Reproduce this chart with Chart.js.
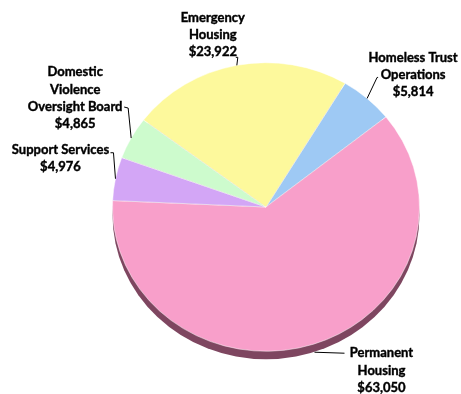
<!DOCTYPE html>
<html>
<head>
<meta charset="utf-8">
<script src="https://cdn.jsdelivr.net/npm/chart.js@4"></script>
<style>
  html, body { margin: 0; padding: 0; background: #fff; }
  #wrap { width: 461px; height: 394px; }
</style>
</head>
<body>
<div id="wrap"><canvas id="grafico" width="461" height="394"></canvas></div>
<script>
// dados
const categorias = [
  ['Homeless Trust', 'Operations'],
  ['Permanent', 'Housing'],
  ['Support Services'],
  ['Domestic', 'Violence', 'Oversight Board'],
  ['Emergency', 'Housing']
];
const valores = [5814, 63050, 4976, 4865, 23922];
const cores = ['#9ec9f4', '#f89fca', '#d3a6f6', '#cdfbcd', '#fdf99c'];

// achatamento vertical (perspectiva) e espessura da borda
const ACHATA = 0.94;
const ESPESSURA = 8;

// posição dos rótulos relativa ao ponto da borda de cada fatia
const rotulosLayout = [
  { start: [0, 0], leader: [[10, -21], [11, -21]], tx: 46, ty: -41 },
  { start: [1, 8], leader: [[31, 9]], tx: 68, ty: 9 },
  { start: [0, 0], leader: [[-2, -26], [-5, -26]], tx: -55, ty: -29 },
  { start: [0, 0], leader: [[-3, -30], [-7, -31]], tx: -56, ty: -66 },
  { start: [0, 0], leader: [[1, -8], [-1, -8]], tx: -24, ty: -48 }
];

const fmt = v => '$' + v.toLocaleString('en-US');

const elipsePlugin = {
  id: 'elipse3d',
  beforeDatasetsDraw(chart) {
    const arc = chart.getDatasetMeta(0).data[0];
    if (!arc) return;
    const { ctx } = chart;
    // borda inferior escura
    ctx.save();
    ctx.fillStyle = '#7e4660';
    ctx.beginPath();
    ctx.ellipse(arc.x, arc.y + ESPESSURA, arc.outerRadius, arc.outerRadius * ACHATA, 0, 0, Math.PI * 2);
    ctx.fill();
    ctx.restore();
    // achata o desenho das fatias
    ctx.save();
    ctx.translate(arc.x, arc.y);
    ctx.scale(1, ACHATA);
    ctx.translate(-arc.x, -arc.y);
  },
  afterDatasetsDraw(chart) {
    chart.ctx.restore();
  }
};

const rotulosPlugin = {
  id: 'rotulos',
  afterDatasetsDraw(chart) {
    const { ctx } = chart;
    const meta = chart.getDatasetMeta(0);
    ctx.save();
    ctx.font = 'bold 13px Lato, "Liberation Sans", sans-serif';
    ctx.fillStyle = '#000';
    ctx.strokeStyle = '#000';
    ctx.textAlign = 'center';
    ctx.textBaseline = 'middle';
    meta.data.forEach((arc, i) => {
      const mid = (arc.startAngle + arc.endAngle) / 2;
      const px = arc.x + Math.cos(mid) * arc.outerRadius;
      const py = arc.y + Math.sin(mid) * arc.outerRadius * ACHATA;
      const lay = rotulosLayout[i];
      ctx.lineWidth = 1;
      ctx.beginPath();
      ctx.moveTo(px + lay.start[0], py + lay.start[1]);
      lay.leader.forEach(([dx, dy]) => ctx.lineTo(px + dx, py + dy));
      ctx.stroke();
      const linhas = [...categorias[i], fmt(valores[i])];
      ctx.lineWidth = 0.4;
      linhas.forEach((t, k) => {
        const x = px + lay.tx, y = py + lay.ty + k * 17.3;
        ctx.fillText(t, x, y);
        ctx.strokeText(t, x, y);
      });
    });
    ctx.restore();
  }
};

new Chart(document.getElementById('grafico').getContext('2d'), {
  type: 'pie',
  data: {
    labels: categorias.map(c => c.join(' ')),
    datasets: [{
      data: valores,
      backgroundColor: cores,
      borderColor: 'rgba(255,255,255,0.5)',
      borderWidth: 1
    }]
  },
  options: {
    responsive: false,
    animation: false,
    rotation: 31,
    layout: { padding: { left: 112, right: 41, top: 53, bottom: 33 } },
    plugins: { legend: { display: false }, tooltip: { enabled: false } }
  },
  plugins: [elipsePlugin, rotulosPlugin]
});
</script>
</body>
</html>
